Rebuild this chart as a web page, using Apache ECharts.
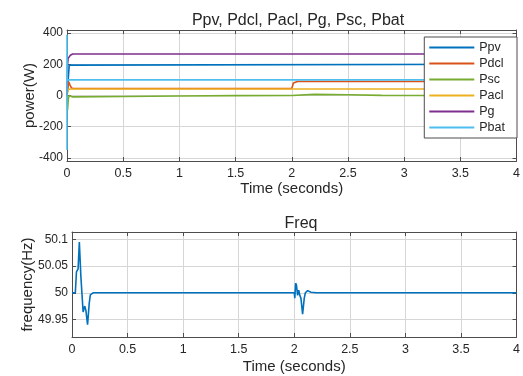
<!DOCTYPE html>
<html>
<head>
<meta charset="utf-8">
<script src="https://cdn.jsdelivr.net/npm/echarts@6/dist/echarts.min.js"></script>
<style>
  html, body { margin: 0; padding: 0; background: #fff; }
  #chart { width: 523px; height: 376px; }
</style>
</head>
<body>
<div id="chart"></div>
<script>
// 功率曲线数据 (时间, 数值)
const pvTime = [0, 0.02, 0.03, 4];
const pvVal = [0, 195, 200, 200];
const dclTime = [0, 0.01, 0.015, 0.025, 0.04, 0.06, 2.0, 2.015, 2.03, 2.05, 4];
const dclVal = [0, 60, 88, 70, 48, 45, 45, 80, 88, 90, 90];
const scTime = [0, 0.005, 0.012, 0.02, 0.03, 0.05, 0.5, 1, 1.5, 2, 2.2, 2.5, 2.8, 3, 4];
const scVal = [0, -92, -20, 0, -5, -9, -6, -3, -1, 0, 7, 5, 1, 0, 0];
const aclTime = [0, 0.01, 0.03, 4];
const aclVal = [0, 38, 42, 42];
const gTime = [0, 0.005, 0.01, 0.03, 0.05, 4];
const gVal = [0, 200, 238, 258, 266, 266];
const batTime = [0, 0, 0.002, 4];
const batVal = [-350, 390, 100, 100];

// 频率曲线数据
const fTime = [0, 0.03, 0.04, 0.055, 0.066, 0.08, 0.1, 0.115, 0.125, 0.14, 0.155, 0.165, 0.19, 2.0, 2.005, 2.012, 2.02, 2.03, 2.04, 2.05, 2.06, 2.075, 2.09, 2.1, 2.12, 2.15, 2.2, 4];
const fVal = [50, 50, 50.039, 50.045, 50.095, 50.03, 49.964, 49.975, 49.967, 49.94, 49.98, 49.996, 50, 50, 49.99, 50.018, 50.014, 49.995, 50.005, 49.995, 49.99, 49.96, 49.99, 50, 50.004, 50.001, 50, 50];

const powerTicks = [-400, -200, 0, 200, 400];
const freqTicks = [49.95, 50, 50.05, 50.1];

const names = ['Ppv', 'Pdcl', 'Psc', 'Pacl', 'Pg', 'Pbat'];
const colors = ['#0072BD', '#D95319', '#77AC30', '#EDB120', '#7E2F8E', '#4DBEEE'];
const powerData = [[pvTime, pvVal], [dclTime, dclVal], [scTime, scVal], [aclTime, aclVal], [gTime, gVal], [batTime, batVal]];

const pairs = (t, v) => t.map((x, i) => [x, v[i]]);

const font = 'Liberation Sans, Arial, sans-serif';
const txt = '#262626';
const box = '#4d4d4d';
const gridLine = '#d6d6d6';

// x 轴 (底部带标签, 顶部只有刻度)
function xAxisCfg(gridIndex, showLabel, position) {
  return {
    type: 'value', gridIndex, position, min: 0, max: 4, interval: 0.5,
    name: showLabel ? 'Time (seconds)' : '', nameLocation: 'middle',
    nameGap: gridIndex === 0 ? 20 : 22, nameMoveOverlap: false,
    nameTextStyle: { fontFamily: font, fontSize: 15, color: txt },
    axisLine: { show: true, onZero: false, lineStyle: { color: box, width: 1 } },
    axisTick: { show: true, inside: true, length: 4, lineStyle: { color: box } },
    axisLabel: { show: showLabel, margin: 6, fontFamily: font, fontSize: 12.5, color: txt },
    splitLine: { show: showLabel, lineStyle: { color: gridLine, width: 1 } }
  };
}

// y 轴
function yAxisCfg(gridIndex, showLabel, position, min, max, ticks, name, gap, fmt) {
  return {
    type: 'value', gridIndex, position, min, max,
    name: showLabel ? name : '', nameLocation: 'middle', nameGap: gap, nameMoveOverlap: false,
    nameTextStyle: { fontFamily: font, fontSize: 15, color: txt },
    axisLine: { show: true, onZero: false, lineStyle: { color: box, width: 1 } },
    axisTick: { show: true, inside: true, length: 4, customValues: ticks, lineStyle: { color: box } },
    axisLabel: { show: showLabel, margin: 4, customValues: ticks, fontFamily: font, fontSize: 12, color: txt, formatter: fmt },
    splitLine: { show: showLabel, lineStyle: { color: gridLine, width: 1 } }
  };
}

const series = names.map((n, i) => ({
  name: n, type: 'line', xAxisIndex: 0, yAxisIndex: 0,
  data: pairs(powerData[i][0], powerData[i][1]),
  showSymbol: false, symbol: 'none',
  lineStyle: { color: colors[i], width: 1.6 },
  itemStyle: { color: colors[i] }
}));
series.push({
  name: 'Freq', type: 'line', xAxisIndex: 2, yAxisIndex: 2,
  data: pairs(fTime, fVal),
  showSymbol: false, symbol: 'none',
  lineStyle: { color: '#0072BD', width: 1.6 }
});

const chart = echarts.init(document.getElementById('chart'));
chart.setOption({
  animation: false,
  backgroundColor: '#fff',
  title: [
    { text: 'Ppv, Pdcl, Pacl, Pg, Psc, Pbat', left: 293, textAlign: 'center', top: 8,
      textStyle: { fontFamily: font, fontSize: 16, fontWeight: 'normal', color: txt } },
    { text: 'Freq', left: 296, textAlign: 'center', top: 211,
      textStyle: { fontFamily: font, fontSize: 16, fontWeight: 'normal', color: txt } }
  ],
  legend: {
    data: names, orient: 'vertical', right: 6, top: 37,
    backgroundColor: '#fff', borderColor: box, borderWidth: 1,
    padding: [4, 12, 4, 5], itemGap: 3, itemWidth: 45, itemHeight: 2, icon: 'rect',
    textStyle: { fontFamily: font, fontSize: 12.5, color: txt, lineHeight: 13 }
  },
  grid: [
    { left: 67, right: 4, top: 30, bottom: 215 },
    { left: 72, right: 4, top: 232, bottom: 39 }
  ],
  xAxis: [
    xAxisCfg(0, true, 'bottom'),
    xAxisCfg(0, false, 'top'),
    xAxisCfg(1, true, 'bottom'),
    xAxisCfg(1, false, 'top')
  ],
  yAxis: [
    yAxisCfg(0, true, 'left', -420, 420, powerTicks, 'power(W)', 30),
    yAxisCfg(0, false, 'right', -420, 420, powerTicks, '', 0),
    yAxisCfg(1, true, 'left', 49.917, 50.114, freqTicks, 'frequency(Hz)', 37, v => String(+v.toFixed(2))),
    yAxisCfg(1, false, 'right', 49.917, 50.114, freqTicks, '', 0)
  ],
  series
});
</script>
</body>
</html>
